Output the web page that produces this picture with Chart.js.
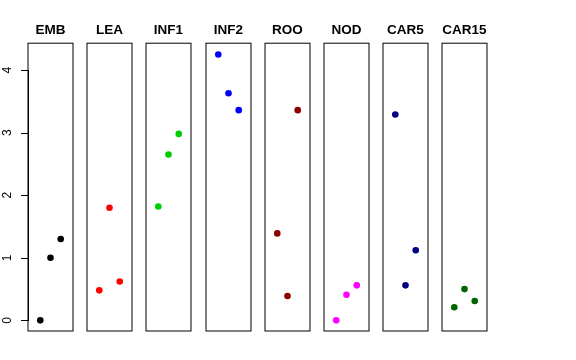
<!DOCTYPE html>
<html>
<head>
<meta charset="utf-8">
<script src="https://cdn.jsdelivr.net/npm/chart.js@4"></script>
<style>
  body { margin: 0; background: #fff; }
  #wrap { position: relative; width: 576px; height: 360px; }
  .panel { position: absolute; top: 0; height: 340px; }
</style>
</head>
<body>
<div id="wrap"></div>
<script>
const groups = ["EMB", "LEA", "INF1", "INF2", "ROO", "NOD", "CAR5", "CAR15"];
const positions = [1, 2, 3];
const embValues = [0.00, 1.00, 1.30];
const leaValues = [0.48, 1.80, 0.62];
const inf1Values = [1.82, 2.65, 2.98];
const inf2Values = [4.25, 3.63, 3.36];
const rooValues = [1.39, 0.39, 3.36];
const nodValues = [0.00, 0.41, 0.56];
const car5Values = [3.29, 0.56, 1.12];
const car15Values = [0.21, 0.50, 0.31];
const yTicks = [0, 1, 2, 3, 4];

const allValues = [embValues, leaValues, inf1Values, inf2Values, rooValues, nodValues, car5Values, car15Values];
const colors = ["#000000", "#ff0000", "#00cd00", "#0000ff", "#8b0000", "#ff00ff", "#000080", "#006400"];

// panel geometry
const panelLeft = 28, panelStep = 59.2, panelWidth = 45, side = 8;

// box round each panel, plus the y axis on the first one
const boxPlugin = {
  id: "box",
  afterDraw(chart) {
    const a = chart.chartArea, ctx = chart.ctx;
    ctx.save();
    ctx.strokeStyle = "#000";
    ctx.lineWidth = 1;
    ctx.strokeRect(a.left, a.top, a.right - a.left, a.bottom - a.top);
    if (chart.options.plugins.box.axis) {
      const y = chart.scales.y;
      const x0 = Math.round(a.left);
      const yTop = Math.round(y.getPixelForValue(yTicks[yTicks.length - 1]));
      const yBot = Math.round(y.getPixelForValue(yTicks[0]));
      ctx.fillStyle = "#000";
      ctx.fillRect(x0, yTop, 1, yBot - yTop + 1);
      yTicks.forEach(v => {
        const py = Math.round(y.getPixelForValue(v));
        ctx.fillRect(x0 - 7, py, 8, 1);
      });
      ctx.font = "12px 'Liberation Sans', Arial, sans-serif";
      ctx.textAlign = "center";
      ctx.textBaseline = "middle";
      yTicks.forEach(v => {
        ctx.save();
        ctx.translate(8, y.getPixelForValue(v));
        ctx.rotate(-Math.PI / 2);
        ctx.fillText(String(v), 0, 0);
        ctx.restore();
      });
    }
    ctx.restore();
  }
};

const wrap = document.getElementById("wrap");

groups.forEach((name, i) => {
  const first = i === 0;
  const left = Math.round(panelLeft + panelStep * i);
  const div = document.createElement("div");
  div.className = "panel";
  div.style.left = (first ? 0 : left - side) + "px";
  div.style.width = ((first ? left : side) + panelWidth + side) + "px";
  const canvas = document.createElement("canvas");
  div.appendChild(canvas);
  wrap.appendChild(div);

  const yScale = {
    min: -0.17,
    max: 4.43,
    display: first,
    afterBuildTicks: s => { s.ticks = yTicks.map(v => ({ value: v })); },
    ticks: { display: false },
    border: { display: false },
    grid: { display: false }
  };
  if (first) yScale.afterFit = s => { s.width = left; };

  new Chart(canvas.getContext("2d"), {
    type: "scatter",
    data: {
      datasets: [{
        data: positions.map((x, j) => ({ x: x, y: allValues[i][j] })),
        backgroundColor: colors[i],
        borderColor: colors[i],
        pointRadius: 3.3,
        borderWidth: 0
      }]
    },
    options: {
      responsive: true,
      maintainAspectRatio: false,
      animation: false,
      events: [],
      layout: { padding: { left: first ? 0 : side, right: side, top: 0, bottom: 9 } },
      plugins: {
        legend: { display: false },
        tooltip: { enabled: false },
        title: {
          display: true,
          fullSize: false,
          text: name,
          color: "#000",
          font: { family: "'Liberation Sans', Arial, sans-serif", size: 13.5, weight: "bold" },
          padding: { top: 22, bottom: 5 }
        },
        box: { axis: first }
      },
      scales: {
        x: { type: "linear", min: -0.2, max: 4.2, display: false },
        y: yScale
      }
    },
    plugins: [boxPlugin]
  });
});
</script>
</body>
</html>
